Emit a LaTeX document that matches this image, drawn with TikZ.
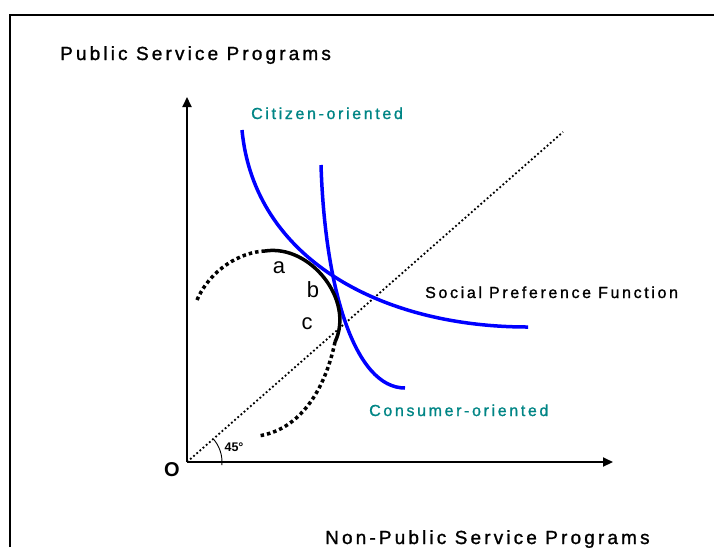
\documentclass[tikz,border=0pt]{standalone}
\usepackage{fontspec}
\setmainfont{Liberation Sans}
\newfontfamily\spacedfont{Liberation Sans}[LetterSpace=16.5,FakeBold=1.2]
\usetikzlibrary{arrows.meta}
\definecolor{curveblue}{RGB}{0,0,255}
\definecolor{tealtext}{RGB}{0,133,133}
\tikzset{
  axis/.style={line width=2pt,-{Triangle[length=10pt,width=9pt]}},
  frameline/.style={line width=2.5pt},
  indiff/.style={curveblue,line width=3.5pt},
  arcsolid/.style={black,line width=3.5pt},
  arcdotted/.style={black,line width=3.5pt,dash pattern=on 3.5pt off 3pt},
  diag/.style={black,line width=1.8pt,dash pattern=on 1.8pt off 2.4pt},
  biglabel/.style={inner sep=0pt,anchor=base west,font=\spacedfont\fontsize{19}{21}\selectfont},
  smalllabel/.style={inner sep=0pt,anchor=base west,font=\spacedfont\fontsize{16}{18}\selectfont},
  letter/.style={inner sep=0pt,font=\fontsize{22}{24}\selectfont}
}
\begin{document}
\begin{tikzpicture}[x=1pt,y=-1pt]
  \useasboundingbox (0,0) rectangle (714,547);
  % open frame
  \draw[frameline] (10,547) -- (10,15) -- (714,15);

  % axes
  \coordinate (O) at (187,462);
  \coordinate (ytip) at (187,97);
  \coordinate (xtip) at (613,462);
  \draw[axis] (O) -- (ytip);
  \draw[axis] (O) -- (xtip);

  % 45 degree line and angle mark
  \coordinate (diagend) at (563,132);
  \draw[diag] (O) -- (diagend);
  \draw[line width=0.9pt] (O) ++(-41:35) arc[start angle=-41, end angle=5, radius=35];
  \node[inner sep=0pt,font=\bfseries\fontsize{12.5}{14}\selectfont] (deg) at (234,447) {45\textdegree};

  % indifference curves
  \coordinate (cit0) at (242,130);
  \coordinate (cit1) at (528,327);
  \draw[indiff] (cit0) .. controls (254,258) and (380,327) .. (cit1);
  \coordinate (con0) at (321,165);
  \coordinate (con1) at (405,388);
  \draw[indiff] (con0) .. controls (325,290) and (355,388) .. (con1);

  % production possibility arc
  \coordinate (p0) at (197,300);
  \coordinate (p1) at (265,251);
  \coordinate (p2) at (335,342);
  \coordinate (p3) at (258,436);
  \draw[arcdotted] (p0) .. controls (210,270) and (240,252) .. (p1);
  \draw[arcsolid] (p1) .. controls (310,244) and (355,300) .. (p2);
  \draw[arcdotted] (p2) .. controls (325,390) and (300,430) .. (p3);

  % labels
  \node[biglabel] (ylab) at (60,60) {Public Service Programs};
  \node[biglabel] (xlab) at (325,544) {Non-Public Service Programs};
  \node[smalllabel,text=tealtext] (citlab) at (251,119) {Citizen-oriented};
  \node[smalllabel,text=tealtext] (conlab) at (369,416) {Consumer-oriented};
  \node[smalllabel] (spf) at (425,298) {Social Preference Function};
  \node[letter] (la) at (279,268) {a};
  \node[letter] (lb) at (313,290) {b};
  \node[letter] (lc) at (307,324) {c};
  \node[inner sep=0pt,font=\bfseries\fontsize{20}{22}\selectfont] (olab) at (172,470) {O};
\end{tikzpicture}
\end{document}
